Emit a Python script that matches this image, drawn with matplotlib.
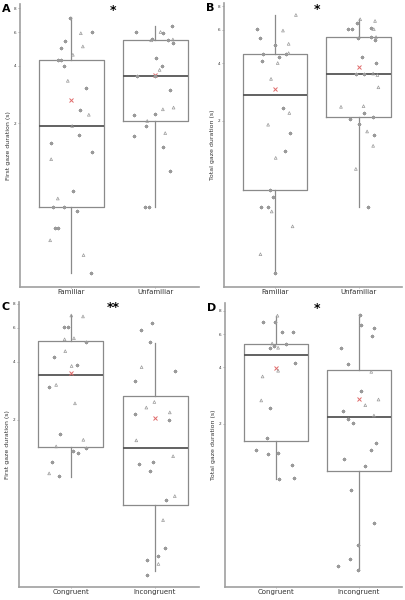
import matplotlib.pyplot as plt

# ---- data (seconds, log scale) ----
# box stats: [whisker low, q1, median, q3, whisker high, mean]
a_fam_box = [0.33, 0.73, 1.94, 4.28, 7.18, 2.66]
a_unf_box = [0.73, 2.07, 3.53, 5.44, 6.45, 3.60]
b_fam_box = [0.32, 0.87, 2.72, 4.50, 7.18, 2.94]
b_unf_box = [0.71, 2.09, 3.52, 5.53, 6.82, 3.83]
c_con_box = [1.01, 1.44, 3.41, 5.15, 6.96, 3.49]
c_inc_box = [0.325, 0.72, 1.42, 2.64, 5.01, 2.05]
d_con_box = [1.01, 1.62, 4.65, 5.35, 7.53, 3.98]
d_inc_box = [0.33, 1.12, 2.18, 3.87, 7.68, 2.71]

# individual observations: value, horizontal jitter, marker (1 = triangle)
a_fam_y = [7.13, 5.92, 6.03, 5.40, 5.05, 4.97, 4.57, 4.29, 4.29, 4.01, 3.34, 3.06, 2.35, 2.22,
           1.94, 1.74, 1.58, 1.42, 1.30, 0.89, 0.81, 0.73, 0.73, 0.70, 0.57, 0.57, 0.49, 0.41, 0.33]
a_fam_dx = [-0.016, 0.115, 0.246, -0.071, 0.139, -0.119, 0.02, -0.151, -0.119, -0.087, -0.04, 0.175,
            0.1, 0.21, 0.012, 0.091, -0.238, 0.246, -0.238, 0.02, -0.159, -0.218, -0.087, 0.071,
            -0.19, -0.159, -0.25, 0.147, 0.234]
a_fam_tri = [0, 1, 0, 0, 1, 0, 1, 0, 0, 0, 1, 0, 0, 1, 1, 0, 0, 0, 1, 0, 1, 0, 0, 0, 0, 0, 1, 1, 0]

a_unf_y = [6.45, 6.01, 6.01, 5.97, 5.44, 5.51, 5.49, 5.49, 5.25, 4.38, 4.01, 3.81, 3.56, 3.56,
           3.00, 2.22, 2.25, 2.37, 2.42, 2.06, 1.94, 1.71, 1.78, 1.50, 1.13, 0.73, 0.73]
a_unf_dx = [0.2, -0.226, 0.063, 0.087, -0.048, -0.036, 0.151, 0.21, 0.21, 0.004, 0.079, 0.052,
            -0.214, -0.008, 0.171, -0.25, -0.008, 0.091, 0.218, -0.095, -0.107, -0.258, 0.119,
            0.091, 0.171, -0.127, -0.079]
a_unf_tri = [0, 0, 1, 0, 1, 0, 0, 1, 0, 0, 0, 1, 0, 0, 0, 0, 0, 1, 1, 1, 0, 0, 1, 0, 0, 0, 0]

b_fam_y = [7.18, 6.05, 5.95, 5.43, 5.07, 4.97, 4.50, 4.50, 4.53, 4.30, 4.12, 4.02, 3.32, 2.33,
           2.20, 1.91, 1.72, 1.39, 1.28, 0.87, 0.80, 0.71, 0.71, 0.67, 0.56, 0.40, 0.32]
b_fam_dx = [0.25, -0.222, 0.095, -0.175, 0.163, 0.0, -0.143, 0.135, 0.163, 0.044, -0.155, 0.032,
            -0.048, 0.095, 0.171, -0.083, 0.175, 0.123, 0.008, -0.056, -0.028, -0.171, -0.083,
            -0.04, 0.21, -0.175, 0.0]
b_fam_tri = [1, 0, 1, 0, 1, 0, 0, 0, 1, 0, 0, 1, 1, 0, 1, 1, 0, 0, 1, 0, 0, 0, 0, 1, 1, 1, 0]

b_unf_y = [6.82, 6.68, 6.50, 6.05, 6.05, 6.12, 6.05, 5.47, 5.53, 5.50, 5.28, 4.35, 4.02, 3.54,
           3.54, 3.54, 3.48, 3.00, 2.37, 2.39, 2.20, 2.05, 2.10, 1.92, 1.76, 1.68, 1.48, 1.12, 0.71]
b_unf_dx = [0.02, 0.198, -0.02, -0.123, -0.075, 0.147, 0.183, -0.012, 0.151, 0.21, 0.198, 0.036,
            0.206, -0.036, 0.071, 0.175, 0.226, 0.238, -0.21, 0.06, 0.067, -0.099, 0.171, 0.0,
            0.103, 0.19, 0.175, -0.032, 0.111]
b_unf_tri = [1, 1, 0, 0, 0, 0, 1, 0, 0, 1, 0, 0, 0, 0, 0, 1, 1, 1, 1, 1, 0, 0, 0, 0, 1, 0, 1, 1, 0]

c_con_y = [6.96, 6.88, 6.08, 6.08, 5.23, 5.30, 5.07, 4.54, 4.21, 3.80, 3.83, 2.97, 3.03, 2.43,
           1.68, 1.57, 1.45, 1.42, 1.37, 1.34, 1.21, 1.05, 1.02]
c_con_dx = [0.008, 0.147, -0.083, -0.028, -0.071, 0.04, 0.179, -0.063, -0.202, 0.012, 0.079,
            -0.254, -0.171, 0.052, -0.127, 0.151, -0.171, 0.187, 0.024, 0.087, -0.222, -0.254,
            -0.143]
c_con_tri = [1, 1, 0, 0, 1, 1, 0, 1, 0, 1, 0, 0, 1, 1, 0, 1, 1, 0, 0, 0, 0, 1, 0]

c_inc_y = [6.36, 5.85, 5.05, 3.75, 3.58, 3.18, 2.47, 2.31, 2.13, 2.18, 2.00, 1.56, 1.29, 1.17,
           1.20, 1.08, 0.80, 0.76, 0.60, 0.43, 0.39, 0.37, 0.355, 0.31]
c_inc_dx = [-0.04, -0.171, -0.06, -0.159, 0.238, -0.234, -0.008, -0.103, -0.234, 0.175, 0.171,
            -0.222, 0.214, -0.19, -0.024, -0.056, 0.234, 0.131, 0.095, 0.119, 0.04, -0.095, 0.04,
            -0.095]
c_inc_tri = [0, 0, 0, 1, 0, 0, 1, 1, 0, 1, 0, 1, 1, 0, 0, 0, 1, 0, 1, 0, 0, 0, 1, 0]

d_con_y = [7.53, 7.00, 6.94, 6.15, 6.17, 5.35, 5.18, 5.04, 5.08, 5.29, 4.23, 3.83, 3.57, 2.66,
           2.42, 1.68, 1.45, 1.38, 1.40, 1.20, 1.03, 1.01]
d_con_dx = [0.022, -0.153, -0.006, 0.073, 0.208, -0.042, -0.014, -0.065, 0.03, 0.125, 0.232, 0.03,
            -0.157, -0.173, -0.069, -0.101, -0.24, -0.093, 0.026, 0.196, 0.216, 0.046]
d_con_tri = [1, 0, 0, 0, 0, 1, 0, 0, 1, 0, 0, 1, 1, 1, 0, 0, 0, 0, 0, 0, 0, 0]

d_inc_y = [7.59, 6.75, 6.48, 5.85, 5.06, 4.18, 3.78, 2.99, 2.69, 2.51, 2.34, 2.21, 2.13, 2.01,
           1.58, 1.45, 1.29, 1.19, 0.89, 0.59, 0.45, 0.38, 0.35, 0.33]
d_inc_dx = [0.016, 0.032, 0.187, 0.159, -0.214, -0.127, 0.151, 0.028, 0.238, 0.079, -0.194, 0.183,
            -0.131, -0.067, 0.21, 0.151, -0.175, 0.079, -0.087, 0.179, -0.012, -0.111, -0.254,
            -0.008]
d_inc_tri = [0, 0, 0, 0, 0, 0, 1, 0, 1, 1, 0, 1, 0, 0, 0, 0, 0, 0, 0, 0, 0, 0, 0, 0]

labels_ab = ["Familiar", "Unfamiliar"]
labels_cd = ["Congruent", "Incongruent"]
ylabels = ["First gaze duration (s)", "Total gaze duration (s)",
           "First gaze duration (s)", "Total gaze duration (s)"]
panel_letters = ["A", "B", "C", "D"]
signif = ["*", "*", "**", "*"]
yticks = [2, 4, 6, 8]

GRAY = "#9a9a9a"


def draw_panel(ax, boxes, ys, dxs, tris, xlabels, ylabel, letter, star, ylim):
    stats = []
    for b in boxes:
        stats.append(dict(whislo=b[0], q1=b[1], med=b[2], q3=b[3], whishi=b[4],
                          mean=b[5], fliers=[]))
    ax.bxp(stats, positions=[1, 2], widths=0.77, showmeans=True, showcaps=False,
           showfliers=False,
           boxprops=dict(color="#8a8a8a", linewidth=0.9),
           whiskerprops=dict(color="#8a8a8a", linewidth=0.9),
           medianprops=dict(color="#555555", linewidth=1.3),
           meanprops=dict(marker="x", markeredgecolor="#e06a6a", markersize=3.5,
                          markeredgewidth=0.7))
    for i, (y, dx, tri) in enumerate(zip(ys, dxs, tris)):
        x = [i + 1 + d for d in dx]
        xt = [xx for xx, t in zip(x, tri) if t]
        yt = [yy for yy, t in zip(y, tri) if t]
        xa = [xx for xx, t in zip(x, tri) if not t]
        ya = [yy for yy, t in zip(y, tri) if not t]
        ax.scatter(xt, yt, marker="^", s=4, facecolors="none", edgecolors=GRAY,
                   linewidths=0.5, zorder=3)
        ax.scatter(xa, ya, marker=(8, 2, 0), s=5, color=GRAY, linewidths=0.5, zorder=3)

    ax.set_yscale("log")
    ax.set_ylim(*ylim)
    ax.set_xlim(0.39, 2.52)
    ax.set_yticks(yticks)
    ax.set_yticklabels([str(t) for t in yticks])
    ax.minorticks_off()
    ax.tick_params(axis="y", labelsize=3, length=1.5, width=0.6, colors="#a0a0a0",
                   labelcolor="#333333", pad=1)
    ax.set_xticks([1, 2])
    ax.set_xticklabels(xlabels)
    ax.tick_params(axis="x", labelsize=5, length=1, width=0.6, colors="#a0a0a0",
                   labelcolor="#333333", pad=0.5)
    ax.set_ylabel(ylabel, fontsize=4.5, labelpad=2, color="#333333")
    for s in ["top", "right"]:
        ax.spines[s].set_visible(False)
    for s in ["left", "bottom"]:
        ax.spines[s].set_color("#a0a0a0")
        ax.spines[s].set_linewidth(1.2)
    ax.text(-0.1, 1.0, letter, transform=ax.transAxes, fontsize=8, fontweight="bold",
            ha="left", va="top")
    ax.text(1.5, ylim[1] * 0.93, star, fontsize=9, fontweight="bold", ha="center", va="center")


fig = plt.figure(figsize=(4.06, 6.0), dpi=100)
ax_a = fig.add_axes([0.049, 0.522, 0.441, 0.471])
ax_b = fig.add_axes([0.552, 0.522, 0.438, 0.473])
ax_c = fig.add_axes([0.047, 0.022, 0.443, 0.475])
ax_d = fig.add_axes([0.554, 0.022, 0.436, 0.473])

draw_panel(ax_a, [a_fam_box, a_unf_box], [a_fam_y, a_unf_y], [a_fam_dx, a_unf_dx],
           [a_fam_tri, a_unf_tri], labels_ab, ylabels[0], panel_letters[0], signif[0], (0.28, 8.4))
draw_panel(ax_b, [b_fam_box, b_unf_box], [b_fam_y, b_unf_y], [b_fam_dx, b_unf_dx],
           [b_fam_tri, b_unf_tri], labels_ab, ylabels[1], panel_letters[1], signif[1], (0.27, 8.3))
draw_panel(ax_c, [c_con_box, c_inc_box], [c_con_y, c_inc_y], [c_con_dx, c_inc_dx],
           [c_con_tri, c_inc_tri], labels_cd, ylabels[2], panel_letters[2], signif[2], (0.27, 8.2))
draw_panel(ax_d, [d_con_box, d_inc_box], [d_con_y, d_inc_y], [d_con_dx, d_inc_dx],
           [d_con_tri, d_inc_tri], labels_cd, ylabels[3], panel_letters[3], signif[3], (0.27, 8.8))

fig.savefig("out.png", dpi=100)
